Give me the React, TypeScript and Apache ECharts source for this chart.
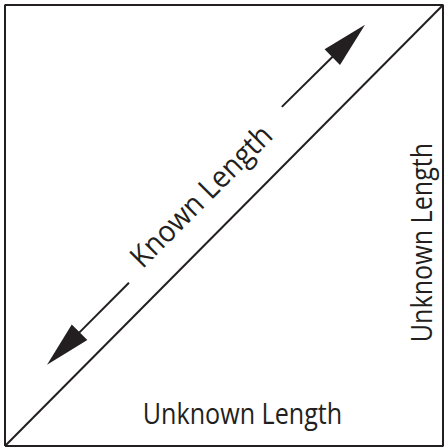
import React, { useEffect, useRef } from "react";
import * as echarts from "echarts";

// Geometry in unit square coordinates (x right, y up)
const boxX = [0, 0, 1, 1, 0];
const boxY = [0, 1, 1, 0, 0];
const diagonalX = [0, 1];
const diagonalY = [0, 1];
const arrowTailX = [0.632, 0.283];
const arrowTailY = [0.769, 0.37];
const arrowTipX = [0.822, 0.096];
const arrowTipY = [0.955, 0.184];
const labels = ["Known Length", "Unknown Length", "Unknown Length"];

const INK = "#231f20";
const FONT = '30px "Open Sans"';

export default function App() {
  const ref = useRef<HTMLDivElement>(null);
  useEffect(() => {
    document.body.style.margin = "0";
    const chart = echarts.init(ref.current!, null, { renderer: "svg" });
    const textStyle = (t: string) => ({
      text: t,
      font: FONT,
      fill: INK,
      align: "center",
      verticalAlign: "middle",
      textAlign: "center",
      textVerticalAlign: "middle",
    });
    const option: any = {
      animation: false,
      backgroundColor: "#ffffff",
      grid: { left: 5, right: 1, top: 5, bottom: 1 },
      xAxis: { type: "value", min: 0, max: 1, show: false },
      yAxis: { type: "value", min: 0, max: 1, show: false },
      series: [
        {
          type: "line",
          data: boxX.map((x, i) => [x, boxY[i]]),
          symbol: "none",
          clip: false,
          lineStyle: { color: INK, width: 2 },
        },
        {
          type: "line",
          data: diagonalX.map((x, i) => [x, diagonalY[i]]),
          symbol: "none",
          clip: false,
          lineStyle: { color: INK, width: 2 },
        },
        {
          type: "custom",
          clip: false,
          encode: { x: [0, 2], y: [1, 3] },
          data: arrowTailX.map((x, i) => [x, arrowTailY[i], arrowTipX[i], arrowTipY[i]]),
          renderItem: (_params: any, api: any) => {
            const a = api.coord([api.value(0), api.value(1)]);
            const b = api.coord([api.value(2), api.value(3)]);
            const dx = b[0] - a[0];
            const dy = b[1] - a[1];
            const len = Math.hypot(dx, dy);
            const ux = dx / len;
            const uy = dy / len;
            const hl = 46;
            const hw = 11;
            const bx = b[0] - ux * hl;
            const by = b[1] - uy * hl;
            return {
              type: "group",
              children: [
                {
                  type: "line",
                  shape: { x1: a[0], y1: a[1], x2: bx + ux * 4, y2: by + uy * 4 },
                  style: { stroke: INK, lineWidth: 2 },
                },
                {
                  type: "polygon",
                  shape: {
                    points: [
                      [b[0], b[1]],
                      [bx - uy * hw, by + ux * hw],
                      [bx + uy * hw, by - ux * hw],
                    ],
                  },
                  style: { fill: INK },
                },
              ],
            };
          },
        },
      ],
      graphic: [
        {
          type: "text",
          x: 200,
          y: 195,
          rotation: Math.PI / 4,
          scaleX: 0.93,
          style: textStyle(labels[0]),
        },
        {
          type: "text",
          x: 242.5,
          y: 412,
          scaleX: 0.838,
          style: textStyle(labels[1]),
        },
        {
          type: "text",
          x: 420.5,
          y: 242.5,
          rotation: Math.PI / 2,
          scaleX: 0.838,
          style: textStyle(labels[2]),
        },
      ],
    };
    chart.setOption(option);
    return () => chart.dispose();
  }, []);
  return <div ref={ref} style={{ width: 444, height: 447 }} />;
}
